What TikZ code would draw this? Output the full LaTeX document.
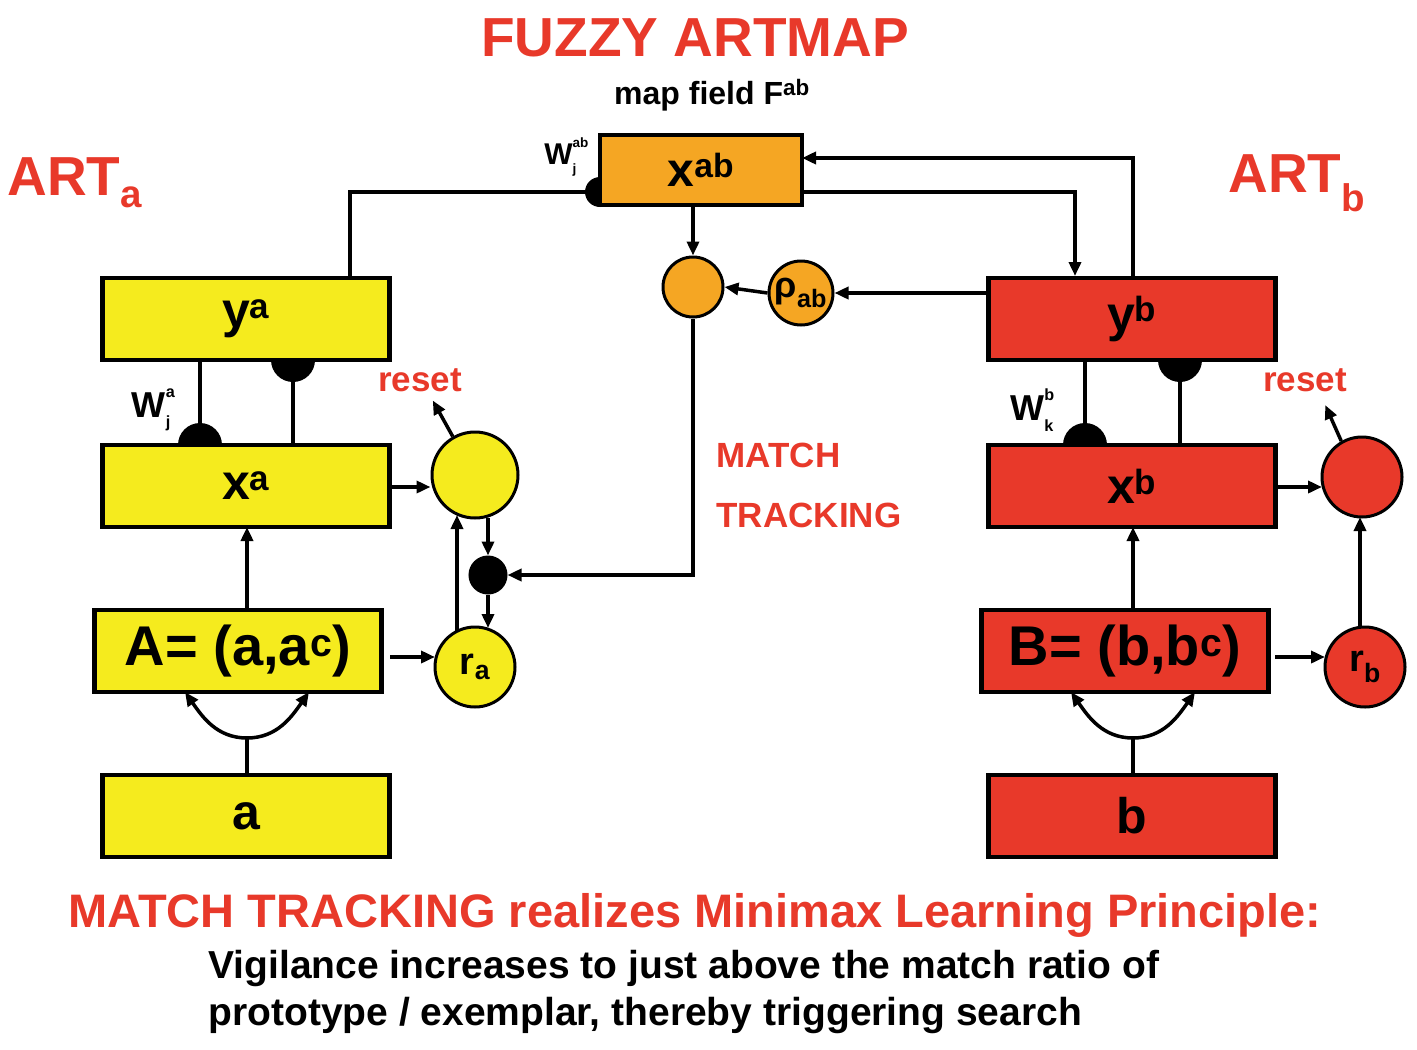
\documentclass[tikz,border=0pt]{standalone}
\usepackage{fontspec}
\setmainfont{Liberation Sans}
\usetikzlibrary{arrows.meta}
\definecolor{yel}{HTML}{F5EB1E}
\definecolor{org}{HTML}{F5A623}
\definecolor{rd}{HTML}{E8392A}
\definecolor{tred}{HTML}{E8392A}
\newcommand{\fs}[1]{\fontsize{#1}{#1}\selectfont\bfseries}
\newcommand{\supsub}[2]{\rlap{\raisebox{0.55em}{\fontsize{0.45em}{0.45em}\selectfont #1}}\raisebox{-0.3em}{\fontsize{0.45em}{0.45em}\selectfont #2}}
\begin{document}
\begin{tikzpicture}[x=1pt,y=-1pt,
  box/.style={draw,line width=4.5pt,minimum width=287pt,minimum height=82pt,inner sep=0pt,font=\fs{50}},
  circ/.style={draw,circle,line width=3pt,inner sep=0pt},
  ln/.style={line width=3.5pt},
  ar/.style={ln,-{Triangle[length=14pt,width=12pt]}},
  lab/.style={font=\fs{35},text=tred}]
\useasboundingbox (0,0) rectangle (1417,1050);
% titles
\node[font=\fs{55},text=tred] (t) at (695,38) {FUZZY ARTMAP};
\node[font=\fs{32}] (mf) at (712,95) {map field F\textsuperscript{ab}};
\node[font=\fs{55},text=tred] (arta) at (75,183) {ART\textsubscript{a}};
\node[font=\fs{55},text=tred] (artb) at (1297,183) {ART\textsubscript{b}};
% boxes
\node[box,fill=org,minimum width=202pt,minimum height=70pt,font=\fs{48}] (xab) at (701,170) {x\textsuperscript{ab}};
\node[box,fill=yel] (ya) at (246,319) {y\textsuperscript{a}};
\node[box,fill=yel] (xa) at (246,486) {x\textsuperscript{a}};
\node[box,fill=yel,font=\fs{56}] (A) at (238,651) {A= (a,a\textsuperscript{c})};
\node[box,fill=yel] (a) at (246,816) {a};
\node[box,fill=rd] (yb) at (1132,319) {y\textsuperscript{b}};
\node[box,fill=rd] (xb) at (1132,486) {x\textsuperscript{b}};
\node[box,fill=rd,font=\fs{56}] (B) at (1125,651) {B= (b,b\textsuperscript{c})};
\node[box,fill=rd] (b) at (1132,816) {b};
% circles
\node[circ,fill=yel,minimum size=86pt] (ca) at (475,475) {};
\node[circ,fill=yel,minimum size=80pt,font=\fs{38}] (ra) at (475,667) {r\textsubscript{a}};
\node[circ,fill=black,minimum size=36pt] (dot) at (488,575) {};
\node[circ,fill=org,minimum size=60pt] (cab) at (693,287) {};
\node[circ,fill=org,minimum size=64pt,font=\fs{36}] (rho) at (801,293) {ρ\textsubscript{ab}};
\node[circ,fill=rd,minimum size=80pt] (cb) at (1362,477) {};
\node[circ,fill=rd,minimum size=80pt,font=\fs{38}] (rb) at (1365,667) {r\textsubscript{b}};
% labels
\node[font=\fs{30},anchor=east] (wab) at (592,157) {W\supsub{ab}{j}\kern12pt};
\node[font=\fs{36},anchor=east] (wa) at (182,410) {W\supsub{a}{j}\kern8pt};
\node[font=\fs{36},anchor=east] (wb) at (1065,410) {W\supsub{b}{k}\kern8pt};
\node[lab] (reseta) at (420,380) {reset};
\node[lab] (resetb) at (1305,380) {reset};
\node[lab,anchor=west] (mt1) at (713,455) {MATCH};
\node[lab,anchor=west] (mt2) at (713,515) {TRACKING};
\node[font=\fs{47},text=tred] (bt) at (695,915) {MATCH TRACKING realizes Minimax Learning Principle:};
\node[font=\fs{39},anchor=west] (bt2) at (205,968) {Vigilance increases to just above the match ratio of};
\node[font=\fs{39},anchor=west] (bt3) at (205,1015) {prototype / exemplar, thereby triggering search};
% synapses (half discs)
\fill (600,207) arc[start angle=90,end angle=270,radius=15] -- cycle;
\fill (178,445) arc[start angle=180,end angle=360,radius=22] -- cycle;
\fill (271,360) arc[start angle=180,end angle=0,radius=22] -- cycle;
\fill (1063,445) arc[start angle=180,end angle=360,radius=22] -- cycle;
\fill (1158,360) arc[start angle=180,end angle=0,radius=22] -- cycle;
% top connectors
\draw[ln] (586,192) -| (350,278);
\draw[ar] (1133,278) |- (802,158);
\draw[ar] (802,192) -| (1075,276);
\draw[ar] (693,205) -- (cab.north);
\draw[ar] (rho.west) -- (cab.east);
\draw[ar] (990,293) -- (rho.east);
\draw[ar] (cab.south) |- (dot.east);
% ya-xa
\draw[ln] (200,360) -- (200,445);
\draw[ln] (293,360) -- (293,445);
\draw[ln] (1085,360) -- (1085,445);
\draw[ln] (1180,360) -- (1180,445);
% left
\draw[ar] (390,487) -- (ca.west |- 0,487);
\draw[ar] (ca.120) -- ++(-20,-36) coordinate (rsa);
\draw[ar] (488,518) -- (dot.north);
\draw[ar] (dot.south) -- (488,628);
\draw[ar] (457,632) -- (457,515);
\draw[ar] (390,657) -- (435,657);
\draw[ar] (247,610) -- (247,527);
\draw[ln] (247,775) -- (247,738) coordinate (fa);
\draw[ar] (fa) to[out=180,in=-55] (185,692);
\draw[ar] (fa) to[out=0,in=-125] (309,692);
% right
\draw[ar] (1275,487) -- (1322,487);
\draw[ar] (cb.120) -- ++(-16,-36) coordinate (rsb);
\draw[ar] (1360,627) -- (1360,517);
\draw[ar] (1275,657) -- (1325,657);
\draw[ar] (1133,610) -- (1133,527);
\draw[ln] (1133,775) -- (1133,738) coordinate (fb);
\draw[ar] (fb) to[out=180,in=-55] (1071,692);
\draw[ar] (fb) to[out=0,in=-125] (1195,692);
\end{tikzpicture}
\end{document}
